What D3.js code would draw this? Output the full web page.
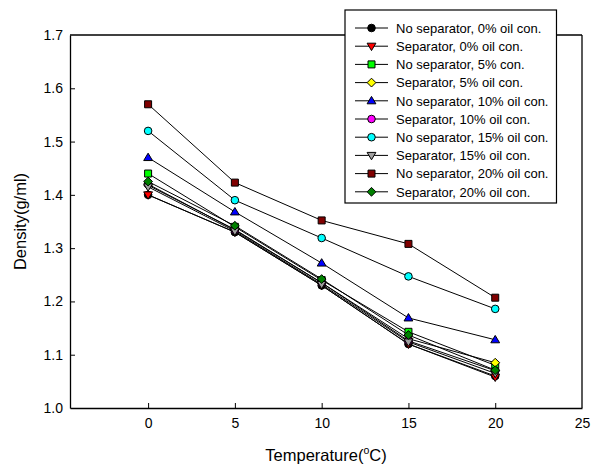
<!DOCTYPE html>
<html>
<head>
<meta charset="utf-8">
<script src="https://cdn.jsdelivr.net/npm/d3@7"></script>
<style>
  body { margin: 0; background: #fff; }
  text { font-family: "Liberation Sans", Arial, sans-serif; }
</style>
</head>
<body>
<div id="chart"></div>
<script>
// data
var temps = [0, 5, 10, 15, 20];
var seriesNames = [
  'No separator, 0% oil con.',
  'Separator, 0% oil con.',
  'No separator, 5% con.',
  'Separator, 5% oil con.',
  'No separator, 10% oil con.',
  'Separator, 10% oil con.',
  'No separator, 15% oil con.',
  'Separator, 15% oil con.',
  'No separator, 20% oil con.',
  'Separator, 20% oil con.'
];
var noSep0 = [1.400, 1.330, 1.230, 1.120, 1.060];
var sep0 = [1.400, 1.330, 1.230, 1.120, 1.058];
var noSep5 = [1.440, 1.340, 1.240, 1.143, 1.080];
var sep5 = [1.418, 1.335, 1.235, 1.130, 1.085];
var noSep10 = [1.470, 1.368, 1.272, 1.169, 1.128];
var sep10 = [1.420, 1.334, 1.235, 1.126, 1.070];
var noSep15 = [1.520, 1.390, 1.319, 1.247, 1.186];
var sep15 = [1.415, 1.332, 1.232, 1.124, 1.065];
var noSep20 = [1.570, 1.423, 1.352, 1.308, 1.207];
var sep20 = [1.425, 1.342, 1.242, 1.137, 1.071];
var xTicks = [0, 5, 10, 15, 20, 25];
var yTicks = [1.0, 1.1, 1.2, 1.3, 1.4, 1.5, 1.6, 1.7];

var allValues = [noSep0, sep0, noSep5, sep5, noSep10, sep10, noSep15, sep15, noSep20, sep20];
var fills = ['#000000', '#ff0000', '#00ff00', '#ffff00', '#0000ff', '#ff00ff', '#00ffff', '#a0a0a0', '#800000', '#008000'];
var shapes = ['circle', 'triDown', 'square', 'diamond', 'triUp', 'circle', 'circle', 'triDown', 'square', 'diamond'];

var w = 595, h = 468;
var mLeft = 70, mRight = 582, mTop = 35, mBottom = 408;

var svg = d3.select('#chart').append('svg')
  .attr('width', w)
  .attr('height', h);

var x = d3.scaleLinear().domain([-4.5, 25]).range([mLeft, mRight]);
var y = d3.scaleLinear().domain([1.0, 1.7]).range([mBottom, mTop]);

// axes
var xAxis = svg.append('g')
  .attr('transform', 'translate(0,' + mBottom + ')')
  .call(d3.axisBottom(x).tickValues(xTicks).tickSizeInner(-5).tickSizeOuter(0).tickPadding(10).tickFormat(d3.format('d')));
var yAxis = svg.append('g')
  .attr('transform', 'translate(' + mLeft + ',0)')
  .call(d3.axisLeft(y).tickValues(yTicks).tickSizeInner(-5).tickSizeOuter(0).tickPadding(7).tickFormat(d3.format('.1f')));
[xAxis, yAxis].forEach(function (g) {
  g.selectAll('text').style('font-size', '14px').attr('fill', '#000');
  g.selectAll('line').attr('stroke', '#000');
  g.select('.domain').attr('stroke', '#000').attr('stroke-width', 1.3);
});
// no tick marks where they would sit on the frame
xAxis.selectAll('.tick line').filter(function (d) { return d === 25; }).remove();
yAxis.selectAll('.tick line').filter(function (d) { return d === 1.7 || d === 1.0; }).remove();

// frame top + right
svg.append('line').attr('x1', mLeft).attr('x2', mRight).attr('y1', mTop).attr('y2', mTop)
  .attr('stroke', '#000').attr('stroke-width', 1.3);
svg.append('line').attr('x1', mRight).attr('x2', mRight).attr('y1', mTop).attr('y2', mBottom)
  .attr('stroke', '#000').attr('stroke-width', 1.3);

// labels
svg.append('text')
  .attr('x', 326).attr('y', 461)
  .attr('text-anchor', 'middle')
  .style('font-size', '16.5px')
  .html('Temperature(<tspan dy="-7" font-size="10.5">o</tspan><tspan dy="7">C)</tspan>');
svg.append('text')
  .attr('transform', 'translate(26,' + ((mTop + mBottom) / 2) + ') rotate(-90)')
  .attr('text-anchor', 'middle')
  .style('font-size', '16.5px')
  .text('Density(g/ml)');

function drawMarker(g, shape, fill, cx, cy) {
  var s = 3.8;
  var el;
  if (shape === 'circle') {
    el = g.append('circle').attr('cx', cx).attr('cy', cy).attr('r', s);
  } else {
    var pts;
    if (shape === 'square') pts = [[-s + 0.3, -s + 0.3], [s - 0.3, -s + 0.3], [s - 0.3, s - 0.3], [-s + 0.3, s - 0.3]];
    if (shape === 'diamond') pts = [[0, -s - 0.6], [s + 0.6, 0], [0, s + 0.6], [-s - 0.6, 0]];
    if (shape === 'triUp') pts = [[0, -s - 0.6], [s + 0.6, s - 0.8], [-s - 0.6, s - 0.8]];
    if (shape === 'triDown') pts = [[0, s + 0.6], [s + 0.6, -s + 0.8], [-s - 0.6, -s + 0.8]];
    el = g.append('polygon').attr('points', pts.map(function (p) { return (cx + p[0]) + ',' + (cy + p[1]); }).join(' '));
  }
  el.attr('fill', fill).attr('stroke', '#000').attr('stroke-width', 1);
}

var line = d3.line()
  .x(function (d) { return x(d[0]); })
  .y(function (d) { return y(d[1]); });

var plot = svg.append('g');
allValues.forEach(function (vals) {
  var pts = temps.map(function (t, j) { return [t, vals[j]]; });
  plot.append('path').attr('d', line(pts)).attr('fill', 'none').attr('stroke', '#000').attr('stroke-width', 1);
});
allValues.forEach(function (vals, i) {
  temps.forEach(function (t, j) {
    drawMarker(plot, shapes[i], fills[i], x(t), y(vals[j]));
  });
});

// legend
var legend = svg.append('g');
var legendRect = legend.append('rect')
  .attr('x', 345).attr('y', 10).attr('height', 193)
  .attr('fill', '#fff').attr('stroke', '#000').attr('stroke-width', 1.2);
var maxW = 0;
seriesNames.forEach(function (name, i) {
  var ly = 28 + i * 18.2;
  legend.append('line').attr('x1', 355).attr('x2', 388).attr('y1', ly).attr('y2', ly)
    .attr('stroke', '#000').attr('stroke-width', 1);
  drawMarker(legend, shapes[i], fills[i], 371.5, ly);
  var t = legend.append('text').attr('x', 396).attr('y', ly + 4.7)
    .style('font-size', '13px').text(name);
  maxW = Math.max(maxW, t.node().getComputedTextLength());
});
legendRect.attr('width', 396 - 345 + maxW + 8);
</script>
</body>
</html>
